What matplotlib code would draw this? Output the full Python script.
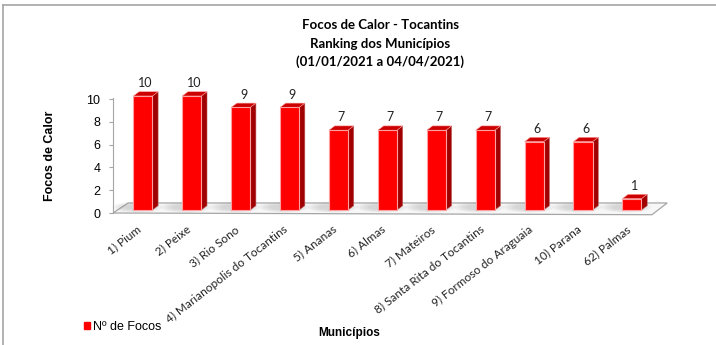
import matplotlib
matplotlib.use('Agg')
import matplotlib.pyplot as plt
from matplotlib.patches import Polygon, Ellipse, Patch
from matplotlib.lines import Line2D

# Data

municipios = ['1) Pium', '2) Peixe', '3) Rio Sono', '4) Marianopolis do Tocantins',
              '5) Ananas', '6) Almas', '7) Mateiros', '8) Santa Rita do Tocantins',
              '9) Formoso do Araguaia', '10) Parana', '62) Palmas']
focos = [10, 10, 9, 9, 7, 7, 7, 7, 6, 6, 1]
titulo = ['Focos de Calor - Tocantins', 'Ranking dos Municípios',
          '(01/01/2021 a 04/04/2021)']
yticks = [0, 2, 4, 6, 8, 10]

# Style / 3D look

FRONT, SIDE, TOP, EDGE = '#FF0000', '#A00000', '#CC0000', '#FFA0A0'
GRAY = '#A6A6A6'
CALIBRI = ['Lato', 'DejaVu Sans']
ARIAL = ['Liberation Sans', 'DejaVu Sans']
W = 0.195            # half width of the bar front face
DX, DY = 0.117, 0.38  # bar depth offset
BASE = 0.26          # bars stand slightly inside the floor
FX, FY = 0.31, 0.88   # floor depth offset

fig = plt.figure(figsize=(7.16, 3.45), dpi=100)
ax = fig.add_axes([113 / 716, 132 / 345, 539 / 716, 119.7 / 345])
ax.set_xlim(-0.61, 10.41)
ax.set_ylim(0, 10.5)

# floor
x_lo, x_hi = ax.get_xlim()
floor = Polygon([(x_lo, 0), (x_hi, -0.15), (x_hi + FX, FY), (x_lo + FX, FY)],
                closed=True, fc='#F7F7F7', ec=GRAY, lw=0.9, clip_on=False, zorder=1)
ax.add_patch(floor)

# bars
for i, v in enumerate(focos):
    x0, x1 = i - W, i + W
    y0, y1 = BASE, BASE + v
    for k in range(5):
        ax.add_patch(Ellipse((i - 0.12, y0 + 0.25), 0.55 + 0.12 * k, 0.45 + 0.12 * k,
                             fc='0.55', ec='none', alpha=0.07, zorder=2, clip_on=False))
    ax.add_patch(Polygon([(x1, y0), (x1 + DX, y0 + DY), (x1 + DX, y1 + DY), (x1, y1)],
                         fc=SIDE, ec='#C06060', lw=0.4, zorder=3, clip_on=False))
    ax.add_patch(Polygon([(x0, y1), (x1, y1), (x1 + DX, y1 + DY), (x0 + DX, y1 + DY)],
                         fc=TOP, ec=EDGE, lw=0.4, zorder=3, clip_on=False))
    ax.add_patch(Polygon([(x0, y0), (x1, y0), (x1, y1), (x0, y1)],
                         fc=FRONT, ec=EDGE, lw=0.8, zorder=4, clip_on=False))
    ax.text(i + DX / 2, y1 + DY + 0.75, str(v), ha='center', va='center',
            fontsize=9, family=CALIBRI, color='#222222', clip_on=False)
    ax.text(i - 0.06, -1.3, municipios[i], rotation=38, rotation_mode='anchor',
            ha='right', va='center', fontsize=8.5, family=CALIBRI, color='#222222',
            clip_on=False)

# axes formatting
ax.set_xticks([])
ax.set_yticks(yticks)
ax.set_yticklabels([str(t) for t in yticks], family=ARIAL, fontsize=9)
ax.tick_params(axis='y', length=3, color=GRAY, pad=6)
for s in ['top', 'right']:
    ax.spines[s].set_visible(False)
ax.spines['left'].set_bounds(0, 10.1)
ax.spines['left'].set_color(GRAY)
ax.spines['bottom'].set_visible(False)
ax.patch.set_visible(False)

# titles and labels
for k, line in enumerate(titulo):
    fig.text(380 / 716, 1 - (25 + 18.5 * k) / 345, line, ha='center', va='center',
             fontsize=9.5, fontweight='bold', family=CALIBRI)
fig.text(50 / 716, 1 - 156 / 345, 'Focos de Calor', rotation=90, ha='center',
         va='center', fontsize=9, fontweight='bold', family=ARIAL)
fig.text(349 / 716, 1 - 333 / 345, 'Municípios', ha='center', va='center',
         fontsize=8.5, fontweight='bold', family=ARIAL)

fig.legend(handles=[Patch(fc=FRONT, ec=FRONT)], labels=['Nº de Focos'],
           loc='center left', bbox_to_anchor=(84 / 716, 1 - 327 / 345),
           frameon=False, handlelength=0.45, handleheight=0.45, handletextpad=0.3,
           borderaxespad=0, borderpad=0, prop={'family': ARIAL, 'size': 9})

# outer border (chart area frame)
fig.add_artist(Line2D([3 / 716, 1], [1 - 5 / 345] * 2, transform=fig.transFigure,
                      color=GRAY, lw=1.2))
fig.add_artist(Line2D([3 / 716] * 2, [0, 1 - 5 / 345], transform=fig.transFigure,
                      color=GRAY, lw=1.2))

fig.savefig('out.png', dpi=100)
